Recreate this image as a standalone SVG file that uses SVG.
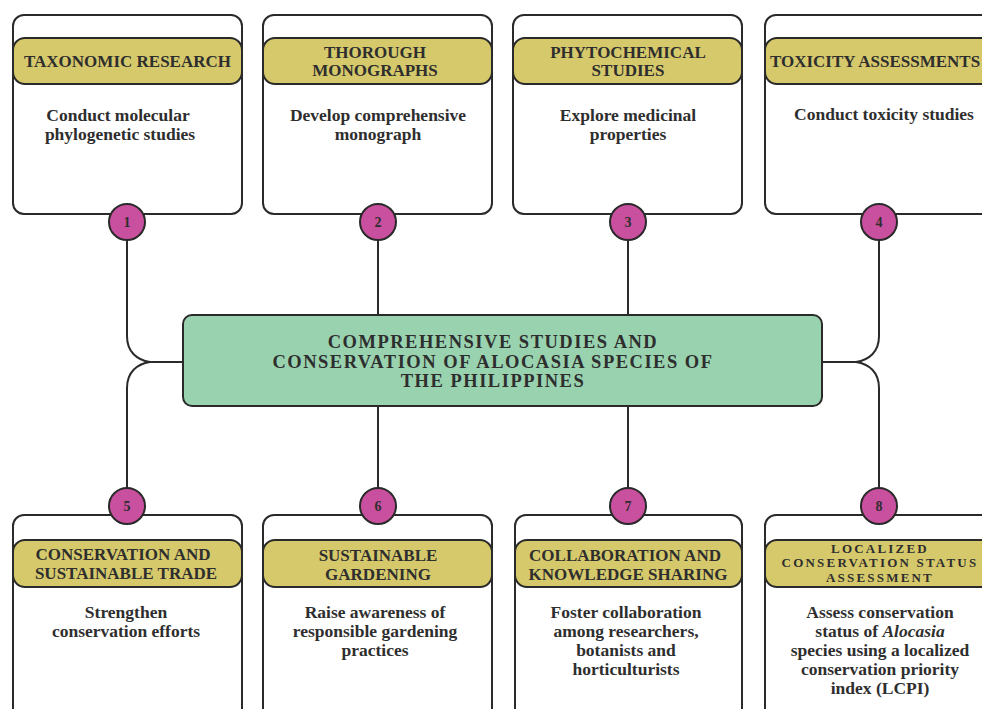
<svg xmlns="http://www.w3.org/2000/svg" width="982" height="709" viewBox="0 0 982 709">
<style>
.card{fill:#fff;stroke:#2a2a2a;stroke-width:2}
.hdr{fill:#d6c96b;stroke:#2a2a2a;stroke-width:2}
.ctr{fill:#99d2ae;stroke:#2a2a2a;stroke-width:2}
.num{fill:#c8509e;stroke:#2a2a2a;stroke-width:2}
.ln{fill:none;stroke:#2a2a2a;stroke-width:2}
text{font-family:"Liberation Serif","Times New Roman",serif;font-weight:bold;fill:#2e2e2e;text-anchor:middle}
.h{font-size:17px}
.h8{font-size:13px;letter-spacing:2.2px}
.b{font-size:17.5px}
.c{font-size:18.5px;letter-spacing:1.5px}
.n{font-size:14px}
</style>
<rect width="982" height="709" fill="#fff"/>
<g id="connectors">
<path class="ln" d="M127 240 V336 C127 352 137 360 150 362 C137 364 127 372 127 388 V488"/>
<path class="ln" d="M150 362 H183"/>
<path class="ln" d="M879 240 V336 C879 352 869 360 856 362 C869 364 879 372 879 388 V488"/>
<path class="ln" d="M856 362 H822"/>
<path class="ln" d="M378 240 V315 M378 406 V488"/>
<path class="ln" d="M628 240 V315 M628 406 V488"/>
</g>
<g id="center">
<rect class="ctr" x="183" y="315" width="639" height="91" rx="9"/>
<text class="c" x="493" y="348">COMPREHENSIVE STUDIES AND</text>
<text class="c" x="493" y="368">CONSERVATION OF ALOCASIA SPECIES OF</text>
<text class="c" x="493" y="387">THE PHILIPPINES</text>
</g>
<g id="node1">
<rect class="card" x="13" y="15" width="229" height="199" rx="11"/>
<rect class="hdr" x="13" y="38" width="229" height="46" rx="12"/>
<text class="h" x="127.5" y="67">TAXONOMIC RESEARCH</text>
<text class="b" x="118" y="121">Conduct molecular</text>
<text class="b" x="120" y="140">phylogenetic studies</text>
<circle class="num" cx="127" cy="222" r="18"/>
<text class="n" x="127" y="227">1</text>
</g>
<g id="node2">
<rect class="card" x="263" y="15" width="229" height="199" rx="11"/>
<rect class="hdr" x="263" y="38" width="229" height="46" rx="12"/>
<text class="h" x="375" y="58">THOROUGH</text>
<text class="h" x="375" y="76">MONOGRAPHS</text>
<text class="b" x="378" y="121">Develop comprehensive</text>
<text class="b" x="378" y="140">monograph</text>
<circle class="num" cx="378" cy="222" r="18"/>
<text class="n" x="378" y="227">2</text>
</g>
<g id="node3">
<rect class="card" x="513" y="15" width="229" height="199" rx="11"/>
<rect class="hdr" x="513" y="38" width="229" height="46" rx="12"/>
<text class="h" x="628" y="58">PHYTOCHEMICAL</text>
<text class="h" x="628" y="76">STUDIES</text>
<text class="b" x="628" y="121">Explore medicinal</text>
<text class="b" x="628" y="140">properties</text>
<circle class="num" cx="628" cy="222" r="18"/>
<text class="n" x="628" y="227">3</text>
</g>
<g id="node4">
<rect class="card" x="765" y="15" width="229" height="199" rx="11"/>
<rect class="hdr" x="765" y="38" width="229" height="46" rx="12"/>
<text class="h" x="875" y="67">TOXICITY ASSESSMENTS</text>
<text class="b" x="884" y="120">Conduct toxicity studies</text>
<circle class="num" cx="879" cy="222" r="18"/>
<text class="n" x="879" y="227">4</text>
</g>
<g id="node5">
<rect class="card" x="13" y="515" width="229" height="220" rx="11"/>
<rect class="hdr" x="13" y="540" width="229" height="47" rx="12"/>
<text class="h" x="123" y="560">CONSERVATION AND</text>
<text class="h" x="126" y="579">SUSTAINABLE TRADE</text>
<text class="b" x="126" y="618">Strengthen</text>
<text class="b" x="126" y="637">conservation efforts</text>
<circle class="num" cx="127" cy="506" r="18"/>
<text class="n" x="127" y="511">5</text>
</g>
<g id="node6">
<rect class="card" x="263" y="515" width="229" height="220" rx="11"/>
<rect class="hdr" x="263" y="540" width="229" height="47" rx="12"/>
<text class="h" x="378" y="561">SUSTAINABLE</text>
<text class="h" x="378" y="580">GARDENING</text>
<text class="b" x="375" y="618">Raise awareness of</text>
<text class="b" x="375" y="637">responsible gardening</text>
<text class="b" x="375" y="656">practices</text>
<circle class="num" cx="378" cy="506" r="18"/>
<text class="n" x="378" y="511">6</text>
</g>
<g id="node7">
<rect class="card" x="515" y="515" width="227" height="220" rx="11"/>
<rect class="hdr" x="515" y="540" width="227" height="47" rx="12"/>
<text class="h" x="625" y="561">COLLABORATION AND</text>
<text class="h" x="628" y="580">KNOWLEDGE SHARING</text>
<text class="b" x="626" y="618">Foster collaboration</text>
<text class="b" x="626" y="637">among researchers,</text>
<text class="b" x="626" y="656">botanists and</text>
<text class="b" x="626" y="675">horticulturists</text>
<circle class="num" cx="628" cy="506" r="18"/>
<text class="n" x="628" y="511">7</text>
</g>
<g id="node8">
<rect class="card" x="765" y="515" width="229" height="220" rx="11"/>
<rect class="hdr" x="765" y="540" width="229" height="47" rx="12"/>
<text class="h8" x="880" y="553">LOCALIZED</text>
<text class="h8" x="880" y="567">CONSERVATION STATUS</text>
<text class="h8" x="880" y="582">ASSESSMENT</text>
<text class="b" x="880" y="618">Assess conservation</text>
<text class="b" x="880" y="637">status of <tspan font-style="italic">Alocasia</tspan></text>
<text class="b" x="880" y="656">species using a localized</text>
<text class="b" x="880" y="675">conservation priority</text>
<text class="b" x="880" y="694">index (LCPI)</text>
<circle class="num" cx="879" cy="506" r="18"/>
<text class="n" x="879" y="511">8</text>
</g>
</svg>
